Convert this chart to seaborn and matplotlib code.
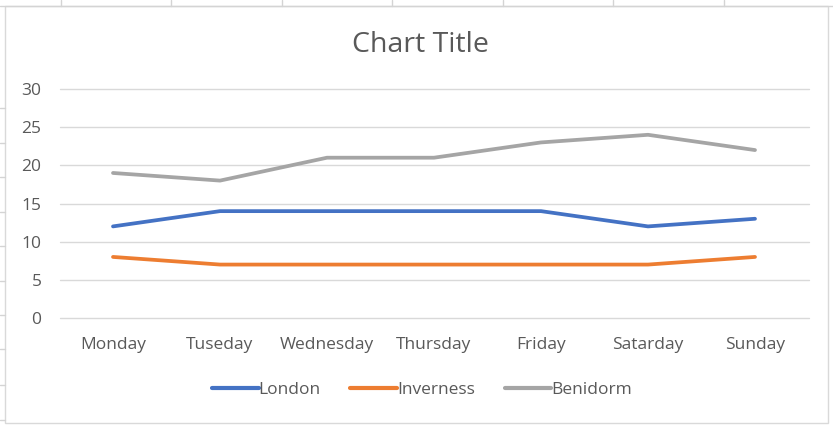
import matplotlib
matplotlib.use("Agg")
import matplotlib.pyplot as plt
import seaborn as sns
import pandas as pd
from matplotlib.lines import Line2D
from matplotlib.patches import Rectangle

days = ["Monday", "Tuseday", "Wednesday", "Thursday", "Friday", "Satarday", "Sunday"]
london = [12, 14, 14, 14, 14, 12, 13]
inverness = [8, 7, 7, 7, 7, 7, 8]
benidorm = [19, 18, 21, 21, 23, 24, 22]
series_names = ["London", "Inverness", "Benidorm"]
colors = ["#4472C4", "#ED7D31", "#A5A5A5"]
yticks = [0, 5, 10, 15, 20, 25, 30]

rows = []
for name, vals in zip(series_names, [london, inverness, benidorm]):
    for d, v in zip(days, vals):
        rows.append({"day": d, "value": v, "city": name})
df = pd.DataFrame(rows)

sns.set_theme(style="white")
plt.rcParams["font.family"] = ["Open Sans", "DejaVu Sans"]

W, H = 833, 425
fig = plt.figure(figsize=(W / 100, H / 100), dpi=100)
ax = fig.add_axes([59.5 / W, 1 - 318 / H, (808.5 - 59.5) / W, (318 - 89) / H])

sns.lineplot(data=df, x="day", y="value", hue="city", palette=colors,
             hue_order=series_names, sort=False, linewidth=2.7, ax=ax,
             legend=False, solid_capstyle="round")

ax.set_xlim(-0.5, len(days) - 0.5)
ax.set_ylim(0, 30)
ax.set_yticks(yticks)
ax.set_xticks(range(len(days)))
ax.set_xticklabels(days)
ax.set_xlabel("")
ax.set_ylabel("")
for s in ax.spines.values():
    s.set_visible(False)
ax.grid(axis="y", color="#D9D9D9", linewidth=1)
for gl in ax.get_ygridlines():
    gl.set_clip_on(False)
ax.set_axisbelow(True)
ax.tick_params(axis="both", length=0, labelsize=12.5, colors="#595959")
ax.tick_params(axis="x", pad=13.5)
ax.tick_params(axis="y", pad=13)

fig.text(420 / W, 1 - 45 / H, "Chart Title", ha="center", va="center",
         fontsize=20.5, color="#595959")

handles = [Line2D([0], [0], color=c, linewidth=3.0) for c in colors]
leg = fig.legend(handles, series_names, loc="center", bbox_to_anchor=(422 / W, 1 - 390 / H),
                 ncol=3, frameon=False, handlelength=2.7, handletextpad=0.0,
                 columnspacing=1.7, fontsize=12.5)
for t in leg.get_texts():
    t.set_color("#595959")

# chart border and surrounding spreadsheet grid
fig.patches.append(Rectangle((5 / W, 2 / H), (828 - 5) / W, (419 - 2) / H,
                             transform=fig.transFigure, fill=False,
                             edgecolor="#D9D9D9", linewidth=1))
for x in [61, 171, 282, 392, 503, 613, 724]:
    fig.lines.append(Line2D([x / W, x / W], [1 - 6 / H, 1], transform=fig.transFigure,
                            color="#D4D4D4", linewidth=1))
for y in [108, 143, 177, 212, 246, 281, 315, 349, 385, 420]:
    fig.lines.append(Line2D([0, 5 / W], [1 - y / H, 1 - y / H], transform=fig.transFigure,
                            color="#D4D4D4", linewidth=1))
fig.lines.append(Line2D([0, 1], [1 - 6 / H, 1 - 6 / H], transform=fig.transFigure,
                        color="#D4D4D4", linewidth=1))

fig.savefig("out.png", dpi=100, facecolor="white")
